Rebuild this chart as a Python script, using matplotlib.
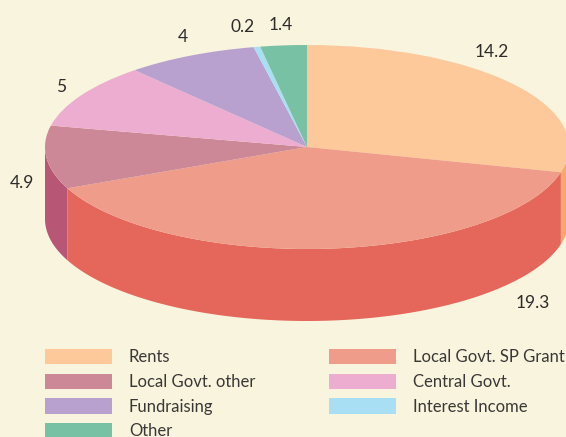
import numpy as np
import matplotlib
matplotlib.use("Agg")
import matplotlib.pyplot as plt
from matplotlib.patches import Patch
from matplotlib.transforms import Affine2D

W, H = 566, 437
BG = "#F8F4DE"
plt.rcParams["font.family"] = ["Lato", "DejaVu Sans"]

categories = ["Rents", "Local Govt. SP Grant", "Local Govt. other", "Central Govt.",
              "Fundraising", "Interest Income", "Other"]
values = [14.2, 19.3, 4.9, 5, 4, 0.2, 1.4]
value_labels = ["14.2", "19.3", "4.9", "5", "4", "0.2", "1.4"]
top_colors = ["#FDC99B", "#EF9C8A", "#CC8896", "#EDADD1", "#B8A1CE", "#A8DFF5", "#79C1A4"]
side_colors = ["#F9A76A", "#E5665A", "#B85675", "#D97FB5", "#8F75B0", "#7FC8E5", "#4FA585"]
label_px = [(492, 52), (533, 303), (22, 183), (61, 87), (183, 37), (243, 27), (281, 25)]

# pie geometry in pixels
CX, CY, RX, RY, DEPTH = 307, 147, 262, 102, 72

fig = plt.figure(figsize=(W / 100, H / 100), dpi=100, facecolor=BG)
ax = fig.add_axes([0, 0, 1, 1])
px = Affine2D().scale(1 / W, -1 / H).translate(0, 1) + fig.transFigure  # pixel coords, y down

ax.pie(values, colors=top_colors, startangle=90, counterclock=False, radius=1,
       wedgeprops=dict(linewidth=0, zorder=3))
ax.set_aspect("auto")
ax.set_xlim(-CX / RX, (W - CX) / RX)
ax.set_ylim((CY - H) / RY, CY / RY)

# side walls, from the same value-derived angles
d = DEPTH / RY
angles = 90 - np.cumsum([0] + values) / sum(values) * 360
for a0, a1, col in zip(angles[:-1], angles[1:], side_colors):
    lo2, hi2 = max(a1, -180), min(a0, 0)
    if hi2 > lo2:
        t = np.radians(np.linspace(hi2, lo2, 80))
        x, y = np.cos(t), np.sin(t)
        ax.fill(np.r_[x, x[::-1]], np.r_[y, y[::-1] - d], color=col, lw=0, zorder=1)

for (x, y), s in zip(label_px, value_labels):
    ax.text(x, y, s, transform=px, ha="center", va="center", fontsize=12.5, color="#2E2C2A")

order = [0, 2, 4, 6, 1, 3, 5]
handles = [Patch(facecolor=top_colors[i], edgecolor="none", label=categories[i]) for i in order]
leg = ax.legend(handles=handles, ncol=2, loc="upper left", bbox_to_anchor=(45, 349),
                bbox_transform=px, frameon=False, fontsize=12, labelcolor="#3A3836",
                handlelength=4.02, handleheight=1.05, handletextpad=1.02,
                labelspacing=0.49, columnspacing=4.4, borderpad=0, borderaxespad=0)

fig.savefig("out.png", dpi=100, facecolor=BG)
